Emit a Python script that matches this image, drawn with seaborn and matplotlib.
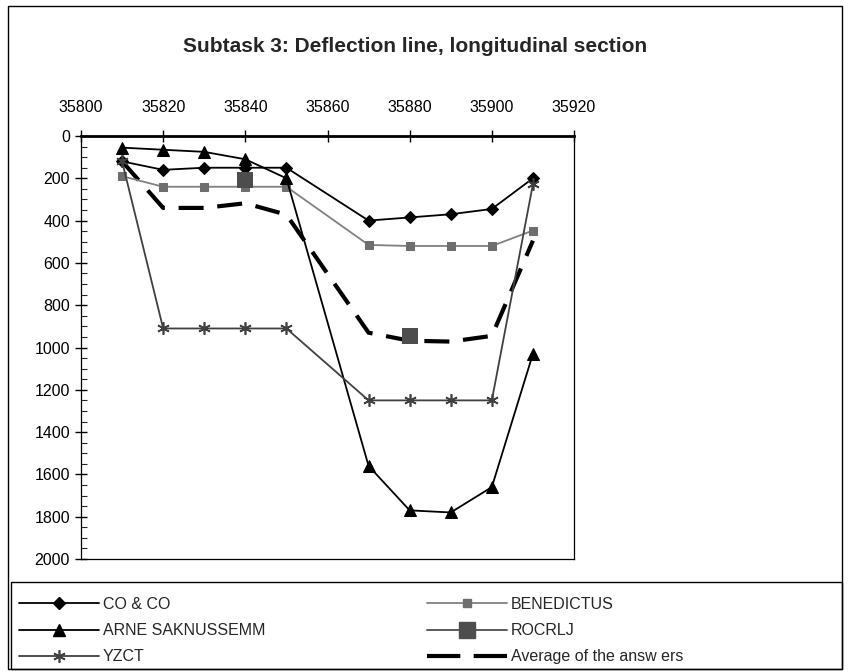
import numpy as np
import pandas as pd
import matplotlib
matplotlib.use("Agg")
import matplotlib.pyplot as plt
from matplotlib.lines import Line2D
from matplotlib.patches import Rectangle
from matplotlib.ticker import MultipleLocator
import seaborn as sns

# ---- data ----
stations = [35810, 35820, 35830, 35840, 35850, 35870, 35880, 35890, 35900, 35910]
co_and_co = [120, 160, 150, 150, 150, 400, 385, 370, 345, 200]
benedictus = [190, 240, 240, 240, 240, 515, 520, 520, 520, 447]
arne = [55, 65, 75, 110, 200, 1560, 1770, 1780, 1660, 1030]
rocrlj = [np.nan, np.nan, np.nan, 210, np.nan, np.nan, 945, np.nan, np.nan, np.nan]
yzct = [120, 910, 910, 910, 910, 1250, 1250, 1250, 1250, 228]
average = [120, 340, 340, 318, 372, 930, 968, 972, 945, 495]

x_ticks = [35800, 35820, 35840, 35860, 35880, 35900, 35920]
y_ticks = [0, 200, 400, 600, 800, 1000, 1200, 1400, 1600, 1800, 2000]

sns.set_theme(style="white")
plt.rcParams['font.family'] = ['Liberation Sans', 'DejaVu Sans']

W, H = 850, 671
fig = plt.figure(figsize=(W / 100, H / 100), dpi=100)


def fx(px):
    return px / W


def fy(py):
    return 1 - py / H


# outer frame
fig.patches.append(Rectangle((fx(8), fy(669)), fx(834), 663 / H, transform=fig.transFigure,
                             fill=False, edgecolor='black', linewidth=1.0))

ax_left, ax_right, ax_top, ax_bottom = 81, 574, 136, 559
ax = fig.add_axes([fx(ax_left), fy(ax_bottom), (ax_right - ax_left) / W, (ax_bottom - ax_top) / H])

df = pd.DataFrame({"x": stations, "co": co_and_co, "ben": benedictus, "arne": arne,
                   "roc": rocrlj, "yz": yzct, "avg": average})

DASH = [6, 3.3]
sns.lineplot(data=df, x="x", y="avg", ax=ax, color='black', linewidth=3.0,
             estimator=None, zorder=2)
ax.lines[-1].set_dashes(DASH)
sns.lineplot(data=df, x="x", y="co", ax=ax, color='black', linewidth=1.3, marker='D',
             markersize=6.5, markeredgecolor='black', estimator=None, zorder=3)
sns.lineplot(data=df, x="x", y="ben", ax=ax, color='#808080', linewidth=1.3, marker='s',
             markersize=6, markeredgecolor='#6e6e6e', markerfacecolor='#6e6e6e',
             estimator=None, zorder=3)
sns.lineplot(data=df, x="x", y="arne", ax=ax, color='black', linewidth=1.3, marker='^',
             markersize=8.5, markeredgecolor='black', estimator=None, zorder=3)
sns.lineplot(data=df, x="x", y="yz", ax=ax, color='#404040', linewidth=1.3, marker=(6, 2, 0),
             markersize=9, markeredgecolor='#404040', markeredgewidth=1.2, estimator=None, zorder=3)
sns.scatterplot(data=df.dropna(subset=["roc"]), x="x", y="roc", ax=ax, color='#4d4d4d',
                marker='s', s=125, edgecolor='#4d4d4d', linewidth=0, zorder=4)

ax.set_xlim(35800, 35920)
ax.set_ylim(2000, 0)
ax.set_xticks(x_ticks)
ax.set_xticklabels([str(v) for v in x_ticks])
ax.set_yticks(y_ticks)
ax.set_yticklabels([str(v) for v in y_ticks])
ax.yaxis.set_minor_locator(MultipleLocator(50))
ax.xaxis.tick_top()
ax.set_xlabel("")
ax.set_ylabel("")
ax.tick_params(axis='x', which='major', direction='inout', length=8, width=1, labelsize=11.5,
               pad=11, top=True, bottom=False, colors='black')
ax.tick_params(axis='y', which='major', direction='inout', length=8, width=1, labelsize=11.5,
               pad=4, left=True, colors='black')
ax.tick_params(axis='y', which='minor', direction='in', length=4, width=0.8, left=True)
for s in ['left', 'right', 'bottom']:
    ax.spines[s].set_color('black')
    ax.spines[s].set_linewidth(0.9)
ax.spines['top'].set_color('black')
ax.spines['top'].set_linewidth(2.0)
ax.set_facecolor('white')

fig.text(fx(415), fy(46), "Subtask 3: Deflection line, longitudinal section",
         ha='center', va='center', fontsize=15, fontweight='bold')

# legend frame
fig.patches.append(Rectangle((fx(11), fy(669)), fx(831), 87 / H, transform=fig.transFigure,
                             fill=False, edgecolor='black', linewidth=1.0))

col1_handles = [
    Line2D([], [], color='black', lw=1.3, marker='D', markersize=6.5),
    Line2D([], [], color='black', lw=1.3, marker='^', markersize=8.5),
    Line2D([], [], color='#404040', lw=1.3, marker=(6, 2, 0), markersize=9, markeredgewidth=1.2),
]
col1_labels = ["CO & CO", "ARNE SAKNUSSEMM", "YZCT"]
col2_handles = [
    Line2D([], [], color='#808080', lw=1.3, marker='s', markersize=6,
           markerfacecolor='#6e6e6e', markeredgecolor='#6e6e6e'),
    Line2D([], [], color='#4d4d4d', lw=1.3, marker='s', markersize=11),
    Line2D([], [], color='black', lw=3.0, dashes=[8, 3.2]),
]
col2_labels = ["BENEDICTUS", "ROCRLJ", "Average of the answ ers"]

common = dict(frameon=False, fontsize=11.5, handlelength=5.0, handletextpad=0.25,
              labelspacing=0.7, borderpad=0, borderaxespad=0, loc='upper left')
fig.legend(col1_handles, col1_labels, bbox_to_anchor=(fx(19), fy(597)), **common)
fig.legend(col2_handles, col2_labels, bbox_to_anchor=(fx(427), fy(597)), **common)

fig.savefig("out.png", dpi=100, facecolor='white')
